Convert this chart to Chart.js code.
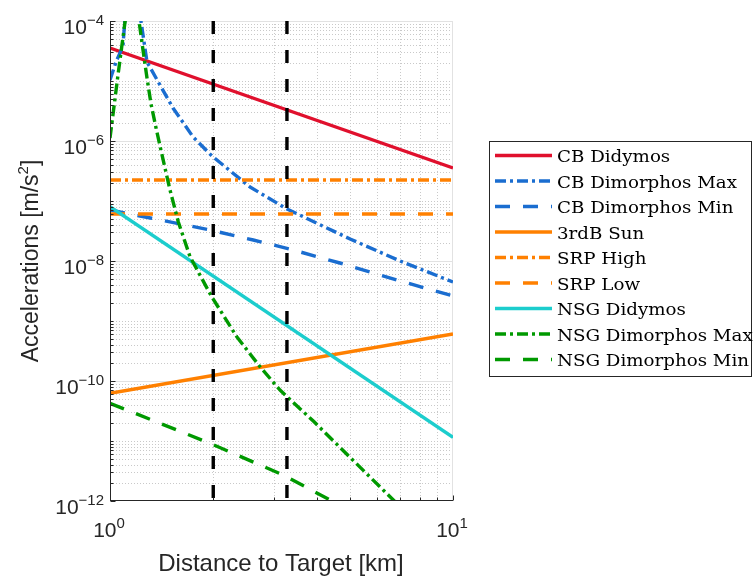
<!DOCTYPE html>
<html>
<head>
<meta charset="utf-8">
<script src="https://cdn.jsdelivr.net/npm/chart.js@4.4.0/dist/chart.umd.min.js"></script>
<style>
  html, body { margin: 0; padding: 0; background: #fff; }
  #c { display: block; }
</style>
</head>
<body>
<canvas id="c" width="753" height="579"></canvas>
<script>
// ── axes / ticks ──
const xRange = [1, 10];
const yRange = [1e-12, 1e-4];
const xTickExps = [0, 1];
const yTickExps = [-12, -10, -8, -6, -4];

// ── series ──
const seriesLabels = ['CB Didymos', 'CB Dimorphos Max', 'CB Dimorphos Min', '3rdB Sun', 'SRP High', 'SRP Low',
  'NSG Didymos', 'NSG Dimorphos Max', 'NSG Dimorphos Min'];

const xEnds = [1, 10];
const cbDidymos = [3.55e-5, 3.55e-7];
const cbDimMaxX = [1, 1.041, 1.091, 1.17, 1.231, 1.282, 1.526, 1.746, 1.983, 2.56, 3.281, 5.01, 7.01, 10];
const cbDimMaxY = [1.04e-5, 2.07e-5, 3.83e-5, 1e-2, 1e-4, 2.07e-5, 3.55e-6, 1.17e-6, 5.62e-7, 1.71e-7, 7.36e-8, 2.33e-8, 1e-8, 4.47e-9];
const cbDimMinX = [1, 1.323, 1.957, 2.617, 3.416, 4.68, 6.855, 10];
const cbDimMinY = [7.08e-8, 5.15e-8, 3.29e-8, 2.24e-8, 1.53e-8, 9.26e-9, 4.83e-9, 2.61e-9];
const sun3rd = [6.24e-11, 6.07e-10];
const srpHigh = [2.24e-7, 2.24e-7];
const srpLow = [6.07e-8, 6.07e-8];
const nsgDidymos = [8.03e-8, 1.15e-11];
const nsgDimMaxX = [1, 1.055, 1.106, 1.17, 1.215, 1.248, 1.282, 1.317, 1.362, 1.418, 1.496, 1.582, 1.711, 1.979, 2.342, 2.737, 3.13, 3.915, 4.898, 6.699, 10];
const nsgDimMaxY = [1.12e-6, 1.25e-5, 9.6e-5, 1e-3, 1e-4, 3.29e-5, 1.12e-5, 4.14e-6, 1.65e-6, 5.85e-7, 1.53e-7, 4.47e-8, 1.18e-8, 2.54e-9, 5.47e-10, 1.73e-10, 7.08e-11, 2.15e-11, 6.07e-12, 1.04e-12, 1.17e-13];
const nsgDimMinX = [1, 1.957, 3.2, 4.38, 5.35];
const nsgDimMinY = [4.25e-11, 9.16e-12, 2.71e-12, 1.04e-12, 5.6e-13];
const markerX = [2, 3.28];   // vertical dashed lines

// ── styles ──
const RED = '#E0102D', BLUE = '#1A6DD0', ORANGE = '#FF8000', CYAN = '#1CCDCD', GREEN = '#009900';
const SOLID = [], DASH = [15, 13], DASHDOT = [11, 4, 3, 4];
const SANS = '"Liberation Sans", Arial, Helvetica, sans-serif';
const SERIF = '"DejaVu Serif", serif';

function pts(xs, ys) { return xs.map(function (x, i) { return { x: x, y: ys[i] }; }); }

const styles = [
  [RED, SOLID], [BLUE, DASHDOT], [BLUE, DASH], [ORANGE, SOLID], [ORANGE, DASHDOT], [ORANGE, DASH],
  [CYAN, SOLID], [GREEN, DASHDOT], [GREEN, DASH]
];
const seriesData = [
  pts(xEnds, cbDidymos), pts(cbDimMaxX, cbDimMaxY), pts(cbDimMinX, cbDimMinY), pts(xEnds, sun3rd),
  pts(xEnds, srpHigh), pts(xEnds, srpLow), pts(xEnds, nsgDidymos), pts(nsgDimMaxX, nsgDimMaxY), pts(nsgDimMinX, nsgDimMinY)
];

const datasets = seriesData.map(function (d, i) {
  return { label: seriesLabels[i], data: d, borderColor: styles[i][0], borderDash: styles[i][1], inLegend: true };
});
markerX.forEach(function (mx) {
  datasets.push({ label: '', data: [{ x: mx, y: yRange[1] }, { x: mx, y: yRange[0] }], borderColor: '#000', borderDash: [13, 16], inLegend: false });
});
const N = datasets.length;
datasets.forEach(function (ds, i) {
  ds.order = N - i;           // later series on top, like the original
  ds.borderWidth = 3.4;
  ds.pointRadius = 0;
  ds.fill = false;
  ds.tension = 0;
  ds.clip = 0;
  ds.borderCapStyle = 'butt';
  ds.borderJoinStyle = 'round';
});

// ── drawing helpers ──
function line(ctx, x1, y1, x2, y2) { ctx.beginPath(); ctx.moveTo(x1, y1); ctx.lineTo(x2, y2); ctx.stroke(); }

function drawPow(ctx, exp, x, y, align) {
  const txt = String(exp).replace('-', '\u2212');
  ctx.font = '21px ' + SANS;
  const wb = ctx.measureText('10').width;
  ctx.font = '15px ' + SANS;
  const we = ctx.measureText(txt).width;
  const w = wb + we;
  const x0 = align === 'right' ? x - w : (align === 'center' ? x - w / 2 : x);
  ctx.textAlign = 'left'; ctx.textBaseline = 'alphabetic';
  ctx.font = '21px ' + SANS; ctx.fillText('10', x0, y);
  ctx.font = '15px ' + SANS; ctx.fillText(txt, x0 + wb, y - 9);
}

const matlabAxes = {
  id: 'matlabAxes',
  beforeDatasetsDraw: function (chart) {
    const ctx = chart.ctx, a = chart.chartArea, xs = chart.scales.x, ys = chart.scales.y;
    ctx.save();
    ctx.beginPath(); ctx.rect(a.left, a.top, a.right - a.left, a.bottom - a.top); ctx.clip();
    ctx.lineWidth = 1;
    // minor grid (dotted)
    ctx.strokeStyle = '#c9c9c9'; ctx.setLineDash([1, 2]);
    for (let e = -12; e < -4; e++) {
      for (let s = 1; s <= 9; s++) {
        if (s === 1 && yTickExps.indexOf(e) >= 0) continue;
        const py = Math.round(ys.getPixelForValue(s * Math.pow(10, e))) + 0.5;
        line(ctx, a.left, py, a.right, py);
      }
    }
    for (let s = 2; s <= 9; s++) {
      const px = Math.round(xs.getPixelForValue(s)) + 0.5;
      line(ctx, px, a.top, px, a.bottom);
    }
    // major grid
    ctx.setLineDash([]); ctx.strokeStyle = '#e2e2e2';
    yTickExps.forEach(function (e) {
      const py = Math.round(ys.getPixelForValue(Math.pow(10, e))) + 0.5;
      line(ctx, a.left, py, a.right, py);
    });
    xTickExps.forEach(function (e) {
      const px = Math.round(xs.getPixelForValue(Math.pow(10, e))) - 0.5;
      line(ctx, px, a.top, px, a.bottom);
    });
    ctx.restore();
  },
  afterDatasetsDraw: function (chart) {
    const ctx = chart.ctx, a = chart.chartArea, xs = chart.scales.x, ys = chart.scales.y;
    ctx.save();
    ctx.strokeStyle = '#262626'; ctx.lineWidth = 1; ctx.setLineDash([]);
    const L = Math.round(a.left) + 0.5, B = Math.round(a.bottom) - 0.5;
    line(ctx, L, a.top, L, a.bottom);
    line(ctx, a.left, B, a.right, B);
    // inward ticks
    for (let e = -12; e <= -4; e++) {
      for (let s = 1; s <= 9; s++) {
        if (e === -4 && s > 1) break;
        const py = Math.round(ys.getPixelForValue(s * Math.pow(10, e))) + 0.5;
        const len = (s === 1 && yTickExps.indexOf(e) >= 0) ? 5 : 3;
        line(ctx, L, py, L + len, py);
      }
    }
    for (let s = 1; s <= 10; s++) {
      const px = Math.round(xs.getPixelForValue(s)) + 0.5;
      const len = (s === 1 || s === 10) ? 5 : 3;
      line(ctx, px, B, px, B - len);
    }
    ctx.restore();
  },
  afterDraw: function (chart) {
    const ctx = chart.ctx, xs = chart.scales.x, ys = chart.scales.y;
    ctx.save();
    ctx.fillStyle = '#262626';
    // tick labels
    yTickExps.forEach(function (e) {
      const py = ys.getPixelForValue(Math.pow(10, e));
      drawPow(ctx, e, 104, py + 12.5, 'right');
    });
    xTickExps.forEach(function (e) {
      const px = xs.getPixelForValue(Math.pow(10, e));
      drawPow(ctx, e, px - 1, 536.5, 'center');
    });
    // axis titles
    ctx.font = '24px ' + SANS; ctx.textAlign = 'center'; ctx.textBaseline = 'alphabetic';
    ctx.fillText('Distance to Target [km]', 281, 571);
    ctx.translate(38, 261); ctx.rotate(-Math.PI / 2);
    ctx.textAlign = 'left';
    ctx.font = '23px ' + SANS;
    const t1 = 'Accelerations [m/s', t3 = ']';
    const w1 = ctx.measureText(t1).width, w3 = ctx.measureText(t3).width;
    ctx.font = '15px ' + SANS;
    const w2 = ctx.measureText('2').width;
    const x0 = -(w1 + w2 + w3) / 2;
    ctx.font = '23px ' + SANS;
    ctx.fillText(t1, x0, 0);
    ctx.fillText(t3, x0 + w1 + w2, 0);
    ctx.font = '15px ' + SANS;
    ctx.fillText('2', x0 + w1, -10);
    ctx.restore();

    // legend
    ctx.save();
    const box = { l: 489.5, t: 141.5, r: 751.5, b: 376.5 };
    ctx.fillStyle = '#fff';
    ctx.fillRect(box.l, box.t, box.r - box.l, box.b - box.t);
    ctx.strokeStyle = '#262626'; ctx.lineWidth = 1;
    ctx.strokeRect(box.l, box.t, box.r - box.l, box.b - box.t);
    ctx.font = '17px ' + SERIF;
    const sx = 180 / ctx.measureText('CB Dimorphos Max').width;
    chart.data.datasets.filter(function (ds) { return ds.inLegend; }).forEach(function (ds, i) {
      const y = 155.5 + i * 25.5;
      ctx.strokeStyle = ds.borderColor; ctx.lineWidth = 3.4; ctx.lineCap = 'butt';
      ctx.setLineDash(ds.borderDash);
      line(ctx, 495, y, 552, y);
      ctx.setLineDash([]);
      ctx.save();
      ctx.translate(557, y + 6.5); ctx.scale(sx, 1);
      ctx.fillStyle = '#000'; ctx.textAlign = 'left'; ctx.textBaseline = 'alphabetic';
      ctx.fillText(ds.label, 0, 0);
      ctx.restore();
    });
    ctx.restore();
  }
};

new Chart(document.getElementById('c'), {
  type: 'line',
  data: { datasets: datasets },
  options: {
    responsive: false,
    animation: false,
    devicePixelRatio: 1,
    events: [],
    layout: { padding: { left: 0, right: 300, top: 21, bottom: 0 } },
    plugins: { legend: { display: false }, tooltip: { enabled: false } },
    scales: {
      x: {
        type: 'logarithmic', min: xRange[0], max: xRange[1],
        ticks: { display: false }, grid: { display: false }, border: { display: false },
        afterFit: function (s) { s.height = 78; }
      },
      y: {
        type: 'logarithmic', min: yRange[0], max: yRange[1],
        ticks: { display: false }, grid: { display: false }, border: { display: false },
        afterFit: function (s) { s.width = 110; }
      }
    }
  },
  plugins: [matlabAxes]
});
</script>
</body>
</html>
